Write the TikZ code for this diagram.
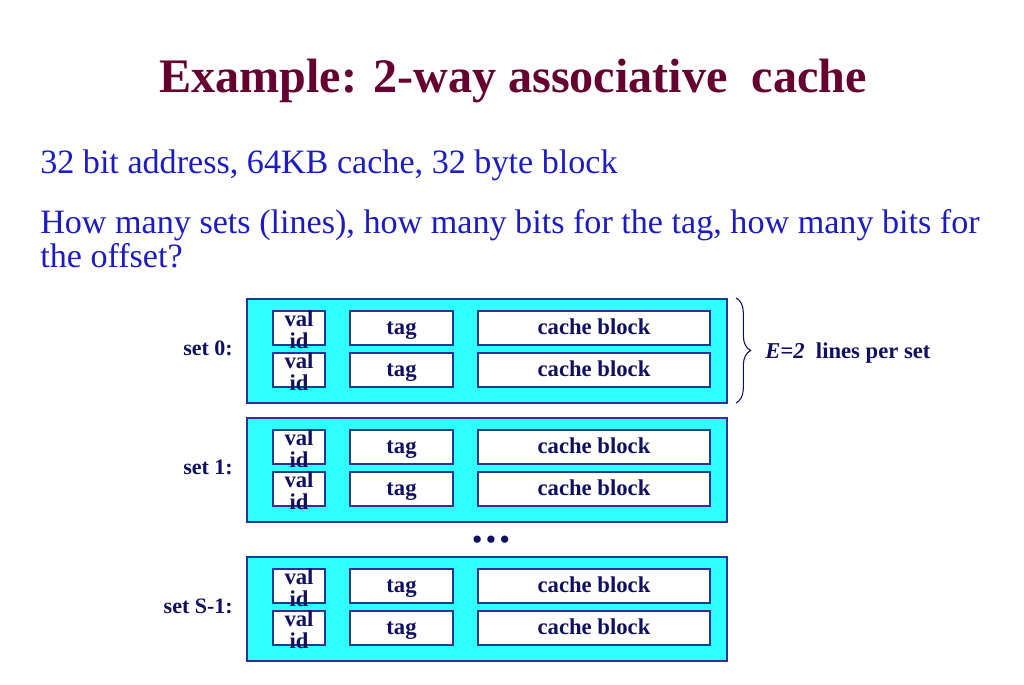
\documentclass[tikz,border=0pt]{standalone}
\usepackage{fontspec}
\setmainfont{Liberation Serif}
\usetikzlibrary{decorations.pathreplacing}
\definecolor{titlered}{HTML}{650030}
\definecolor{bodyblue}{HTML}{1C1CC0}
\definecolor{navy}{HTML}{101060}
\definecolor{cyanfill}{HTML}{30FFFF}
\definecolor{boxline}{HTML}{283593}
\begin{document}
\begin{tikzpicture}[x=0.75pt,y=-0.75pt,
  setbox/.style={draw=boxline,line width=1pt,fill=cyanfill},
  cellbox/.style={draw=boxline,line width=1pt,fill=white},
  celltext/.style={font=\fontsize{17}{17}\selectfont\bfseries,text=navy,inner sep=0pt},
  settext/.style={font=\fontsize{16.5}{17}\selectfont\bfseries,text=navy,inner sep=0pt,anchor=base east},
  bodytext/.style={font=\fontsize{25.6}{28}\selectfont,text=bodyblue,inner sep=0pt,anchor=base west}]
\useasboundingbox[fill=white] (0,0) rectangle (1024,685);
\node[font=\fontsize{36.1}{40}\selectfont\bfseries,text=titlered,inner sep=0pt,anchor=base] (title) at (513,93) {Example: 2-way associative\ \ cache};
\node[bodytext] (l1) at (40,173) {32 bit address, 64KB cache, 32 byte block};
\node[bodytext] (l2) at (40,233) {How many sets (lines), how many bits for the tag, how many bits for};
\node[bodytext] (l3) at (40,267) {the offset?};
\foreach \name/\top/\lab in {s0/299/set 0:, s1/418/set 1:, s2/557/set S-1:}{
  \draw[setbox] (247,\top) rectangle (727,\top+104);
  \coordinate (\name tl) at (247,\top);
  \coordinate (\name bl) at (727,\top+104);
  \node[settext] (\name lab) at (233,\top+56) {\lab};
  \foreach \r/\dy in {a/12,b/54}{
    \draw[cellbox] (273,\top+\dy) rectangle (325,\top+\dy+34);
    \draw[cellbox] (350,\top+\dy) rectangle (453,\top+\dy+34);
    \draw[cellbox] (478,\top+\dy) rectangle (710,\top+\dy+34);
    \node[celltext,anchor=base] (\name\r v) at (299,\top+\dy+15) {val};
    \node[celltext,anchor=base] (\name\r i) at (299,\top+\dy+37) {id};
    \node[celltext,anchor=base] (\name\r t) at (401.5,\top+\dy+23) {tag};
    \node[celltext,anchor=base] (\name\r c) at (594,\top+\dy+23) {cache block};
  }
}
\node[font=\fontsize{20}{20}\selectfont\bfseries,text=navy,inner sep=0pt] (dots) at (491,542) {\textbullet\,\textbullet\,\textbullet};
\coordinate (bt) at (736,298);
\coordinate (bb) at (736,403);
\draw[navy,line width=0.8pt,decorate,decoration={brace,amplitude=11pt}] (bt) -- (bb);
\node[font=\fontsize{17}{17}\selectfont\bfseries,text=navy,inner sep=0pt,anchor=base west] (elab) at (765,358) {\textit{E=2}\ \ lines per set};
\end{tikzpicture}
\end{document}
